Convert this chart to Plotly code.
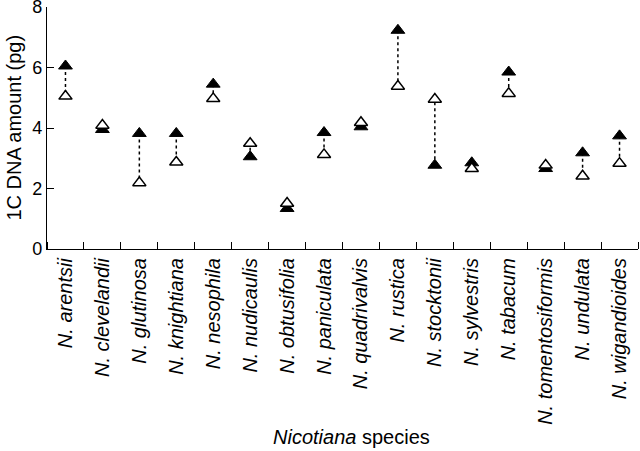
import plotly.graph_objects as go

species = ["N. arentsii", "N. clevelandii", "N. glutinosa", "N. knightiana", "N. nesophila",
           "N. nudicaulis", "N. obtusifolia", "N. paniculata", "N. quadrivalvis", "N. rustica",
           "N. stocktonii", "N. sylvestris", "N. tabacum", "N. tomentosiformis", "N. undulata",
           "N. wigandioides"]
filled_vals = [6.05, 3.95, 3.82, 3.82, 5.45, 3.05, 1.34, 3.85, 4.04, 7.23, 2.77, 2.85, 5.85, 2.66, 3.18, 3.74]
open_vals = [5.05, 4.09, 2.19, 2.87, 4.97, 3.49, 1.51, 3.12, 4.18, 5.38, 4.95, 2.66, 5.14, 2.77, 2.41, 2.83]
y_ticks = [0, 2, 4, 6, 8]

FONT = "Liberation Sans"
FS = 20
xs = list(range(len(species)))

# dotted connector lines
lx, ly = [], []
for i, (f, o) in enumerate(zip(filled_vals, open_vals)):
    lx += [i, i, None]
    ly += [f, o, None]

fig = go.Figure()
fig.add_trace(go.Scatter(x=lx, y=ly, mode="lines",
                         line=dict(color="black", width=1.5, dash="dot"),
                         hoverinfo="skip", showlegend=False))
fig.add_trace(go.Scatter(x=xs, y=filled_vals, mode="markers",
                         marker=dict(symbol="triangle-up", size=12, color="black",
                                     line=dict(color="black", width=1)),
                         showlegend=False))
fig.add_trace(go.Scatter(x=xs, y=open_vals, mode="markers",
                         marker=dict(symbol="triangle-up", size=11.5, color="white",
                                     line=dict(color="black", width=1.5)),
                         showlegend=False))

fig.update_layout(
    width=640, height=451,
    margin=dict(l=47, r=2, t=7, b=202, autoexpand=False),
    paper_bgcolor="white", plot_bgcolor="white",
    font=dict(family=FONT, size=FS, color="black"),
    xaxis=dict(range=[-0.5, len(species) - 0.5], automargin=False,
               tickmode="array", tickvals=xs,
               ticktext=["<i>%s</i>" % s for s in species],
               tickangle=-90, ticks="", showgrid=False, zeroline=False,
               showline=True, linecolor="black", linewidth=1.2,
               ticklabeloverflow="allow",
               tickfont=dict(family=FONT, size=FS, color="black"),
               minor=dict(ticks="inside", tick0=0.5, dtick=1, ticklen=7,
                          tickwidth=1.2, tickcolor="black", showgrid=False)),
    yaxis=dict(range=[0, 8], automargin=False, tickmode="array", tickvals=y_ticks,
               ticks="inside", ticklen=7, tickwidth=1.2, tickcolor="black",
               showgrid=False, zeroline=False, showline=True,
               linecolor="black", linewidth=1.2, ticklabeloverflow="allow",
               tickfont=dict(family=FONT, size=18, color="black")),
    annotations=[
        dict(text="1C DNA amount (pg)", xref="paper", yref="paper",
             x=(13.5 - 47) / 591, y=0.5, textangle=-90, showarrow=False,
             xanchor="center", yanchor="middle",
             font=dict(family=FONT, size=FS, color="black")),
        dict(text="<i>Nicotiana</i> species", xref="paper", yref="paper",
             x=0.515, y=(249 - 437) / 242, showarrow=False,
             xanchor="center", yanchor="middle",
             font=dict(family=FONT, size=FS, color="black")),
    ],
)

fig.write_html("out.html", config={"displayModeBar": False},
               post_script="document.body.style.margin='0px';document.body.style.overflow='hidden';")
